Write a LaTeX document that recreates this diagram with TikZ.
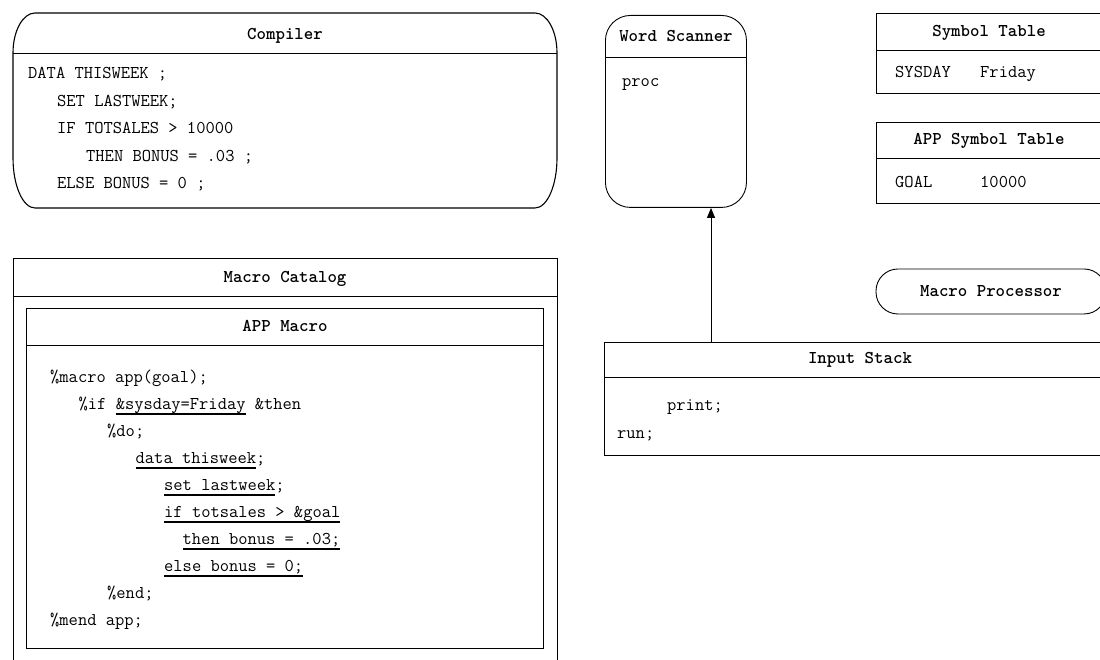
\documentclass[tikz,border=0pt]{standalone}
\usepackage{tikz}
\usetikzlibrary{arrows.meta}
\newcommand{\undercode}[1]{\setbox0\hbox{#1}\rlap{\rule[-5.5pt]{\wd0}{1.8pt}}\box0\relax}
\tikzset{
	boxtitle/.style={font=\ttfamily\bfseries\fontsize{18}{20}\selectfont, anchor=base, inner sep=0},
	code/.style={font=\ttfamily\fontsize{18}{20}\selectfont, anchor=base west, inner sep=0},
	frame/.style={draw, line width=0.9pt, inner sep=0, anchor=north west}
}
\begin{document}
\begin{tikzpicture}[x=1pt, y=1pt]
			%%%%% START %%%%%
			\useasboundingbox (0, 0) rectangle (1100, 660);
			
			% compiler
			\draw[line width=1.1pt] (35, 647) -- (535, 647) arc[start angle=90, end angle=0, x radius=22, y radius=40] -- (557, 502) arc[start angle=0, end angle=-90, x radius=22, y radius=50] -- (35, 452) arc[start angle=270, end angle=180, x radius=22, y radius=50] -- (13, 607) arc[start angle=180, end angle=90, x radius=22, y radius=40] -- cycle;
			\draw[line width=0.9pt] (13, 607) -- (557, 607);
			\node[boxtitle] (compilertitle) at (285, 620) {Compiler};
			\node[code] (comp1) at (28, 581) {DATA THISWEEK ;};
			\node[code] (comp2) at (57, 553.5) {SET LASTWEEK;};
			\node[code] (comp3) at (57, 526) {IF TOTSALES > 10000};
			\node[code] (comp4) at (86, 498.5) {THEN BONUS = .03 ;};
			\node[code] (comp5) at (57, 471) {ELSE BONUS = 0 ;};
			
			% macro catalog
			\draw[line width=0.9pt] (13, -5) -- (13, 402) -- (557, 402) -- (557, -5);
			\draw[line width=0.9pt] (13, 364) -- (557, 364);
			\node[boxtitle] (catalogtitle) at (285, 377) {Macro Catalog};
			
			\node[frame, minimum width=517pt, minimum height=340pt] (appmacro) at (26, 352) {};
			\draw[line width=0.9pt] (appmacro.west |- 0, 315) -- (appmacro.east |- 0, 315);
			\node[boxtitle] (appmacrotitle) at (285, 328) {APP Macro};
			\node[code] (mac1) at (50, 277.5) {\%macro app(goal);};
			\node[code] (mac2) at (78.5, 250.5) {\%if \undercode{\&sysday=Friday} \&then};
			\node[code] (mac3) at (107, 223.5) {\%do;};
			\node[code] (mac4) at (135.5, 196.5) {\undercode{data thisweek};};
			\node[code] (mac5) at (164, 169.5) {\undercode{set lastweek};};
			\node[code] (mac6) at (164, 142.5) {\undercode{if totsales > \&goal}};
			\node[code] (mac7) at (182.5, 115.5) {\undercode{then bonus = .03;}};
			\node[code] (mac8) at (164, 88.5) {\undercode{else bonus = 0;}};
			\node[code] (mac9) at (107, 61.5) {\%end;};
			\node[code] (mac10) at (50, 34.5) {\%mend app;};
			
			% word scanner
			\node[frame, rounded corners=25pt, minimum width=141pt, minimum height=192pt] (scanner) at (605, 645) {};
			\draw[line width=0.9pt] (scanner.west |- 0, 603) -- (scanner.east |- 0, 603);
			\node[boxtitle] (scannertitle) at (scanner.north |- 0, 618) {Word Scanner};
			\node[code] (proc) at (622, 573) {proc};
			
			% symbol tables
			\node[frame, minimum width=230pt, minimum height=80pt] (symtab) at (876, 647) {};
			\draw[line width=0.9pt] (876, 610) -- (1106, 610);
			\node[boxtitle] (symtabtitle) at (989, 623) {Symbol Table};
			\node[code] (sysday) at (895, 582) {SYSDAY};
			\node[code] (friday) at (980, 582) {Friday};
			
			\node[frame, minimum width=230pt, minimum height=81pt] (appsymtab) at (876, 538) {};
			\draw[line width=0.9pt] (876, 502) -- (1106, 502);
			\node[boxtitle] (appsymtabtitle) at (989, 515) {APP Symbol Table};
			\node[code] (goal) at (895, 472) {GOAL};
			\node[code] (goalvalue) at (980, 472) {10000};
			
			% macro processor
			\node[draw, line width=0.9pt, rounded corners=22pt, minimum width=230pt, minimum height=45pt, font=\ttfamily\bfseries\fontsize{18}{20}\selectfont] (processor) at (991, 368.5) {Macro Processor};
			
			% input stack
			\node[frame, minimum width=502pt, minimum height=113pt] (stack) at (604, 318) {};
			\draw[line width=0.9pt] (604, 283) -- (1106, 283);
			\node[boxtitle] (stacktitle) at (860, 296) {Input Stack};
			\node[code] (print) at (667, 249) {print;};
			\node[code] (run) at (617, 221) {run;};
			
			\coordinate (feed) at (711, 318);
			\draw[line width=0.8pt, -{Triangle[length=10pt, width=8pt]}] (feed) -- (feed |- scanner.south);
			
			%%%%% END %%%%%
\end{tikzpicture}
\end{document}
